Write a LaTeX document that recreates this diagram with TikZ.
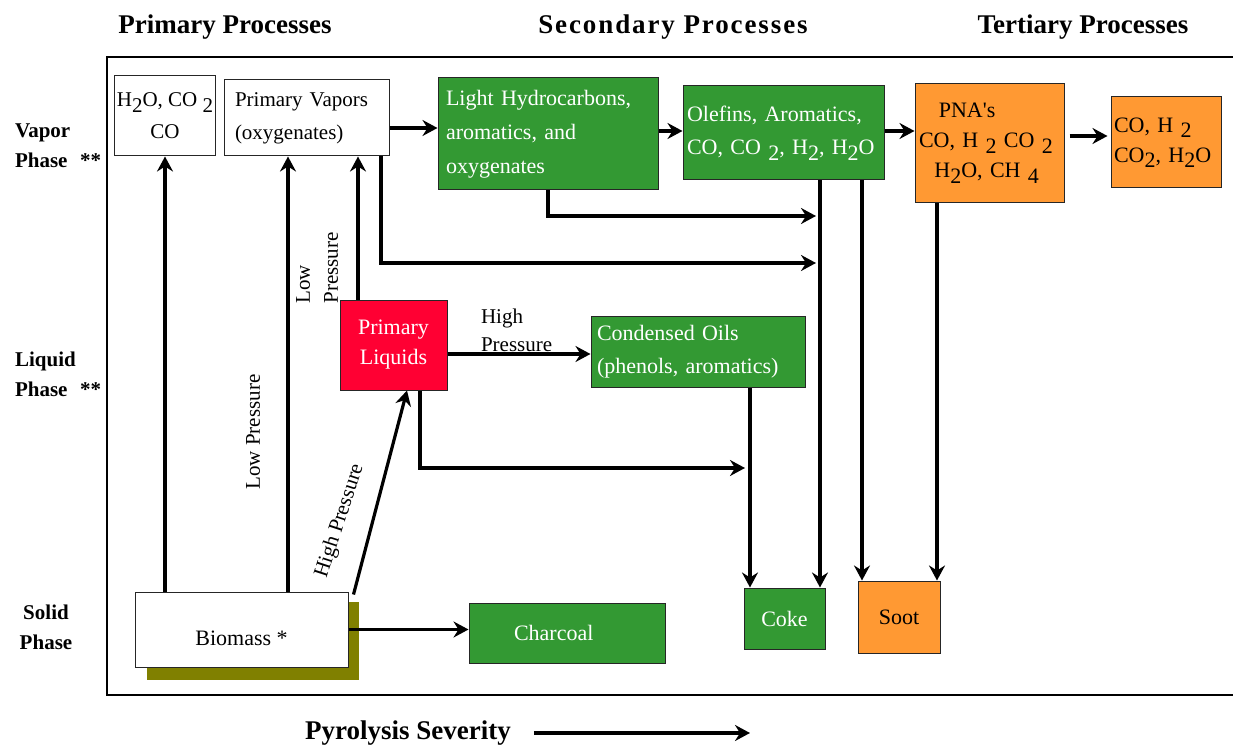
\documentclass[tikz,border=0pt]{standalone}
\usepackage{fontspec}
\setmainfont{Liberation Serif}
\usetikzlibrary{arrows.meta}

\definecolor{leafgreen}{HTML}{339933}
\definecolor{sootorange}{HTML}{FF9933}
\definecolor{liquidred}{HTML}{FF0033}
\definecolor{shadeolive}{HTML}{808000}

\newcommand{\dn}[1]{\raisebox{-0.55ex}{#1}}

\tikzset{
	box/.style = {draw = black!85, line width = 0.5pt, inner sep = 2pt, align = left,
		font = \fontsize{11}{15}\selectfont},
	whitebox/.style = {box, fill = white},
	greenbox/.style = {box, fill = leafgreen, text = white},
	orangebox/.style = {box, fill = sootorange},
	redbox/.style = {box, fill = liquidred, text = white},
	heading/.style = {font = \bfseries\fontsize{13.5}{16}\selectfont},
	phase/.style = {font = \bfseries\fontsize{10.5}{15}\selectfont, align = left},
	lbl/.style = {font = \fontsize{10.5}{14}\selectfont},
	flow/.style = {->, line width = 1.6pt}
}

\begin{document}
\begin{tikzpicture}[x = 0.5pt, y = -0.5pt, > = {Stealth[length = 7.5pt, width = 8pt, inset = 2.5pt]}]

	\useasboundingbox (0, 0) rectangle (1233, 749);

	% Frame, headings and phases

	\draw [line width = 0.7pt] (107, 57) rectangle (1250, 695);

	\node [heading] (prim) at (225, 27) {Primary Processes};
	\node [heading] (sec) at (673, 27) {\addfontfeature{LetterSpace = 7}Secondary Processes};
	\node [heading] (tert) at (1083, 27) {Tertiary Processes};

	\node [phase, anchor = north west] (vapor) at (8, 117) {Vapor\\Phase\hspace{0.6em}**};
	\node [phase, anchor = north west] (liquid) at (8, 345) {Liquid\\Phase\hspace{0.6em}**};
	\node [phase, align = center] (solid) at (46, 627) {Solid\\Phase};

	% Vapor boxes

	\node [whitebox, align = center, inner sep = 1pt, minimum width = 49pt, minimum height = 40pt,
		font = \fontsize{10.5}{16}\selectfont] (h2o) at (165, 116) {H\dn{2}O, CO \dn{2}\\CO};
	\node [whitebox, text width = 71.5pt, inner xsep = 5.5pt, minimum height = 38pt,
		font = \fontsize{10.5}{16.5}\selectfont] (pvap) at (306.5, 118) {Primary Vapors\\(oxygenates)};
	\node [greenbox, text width = 102pt, inner xsep = 4pt, minimum height = 56pt,
		font = \fontsize{11}{17}\selectfont] (lhc) at (548, 134) {Light Hydrocarbons,\\aromatics, and\\oxygenates};
	\node [greenbox, text width = 96.5pt, minimum height = 47pt,
		font = \fontsize{11}{16.5}\selectfont] (olef) at (783.5, 133) {Olefins, Aromatics,\\CO, CO \dn{2}, H\dn{2}, H\dn{2}O};
	\node [orangebox, text width = 70.5pt, minimum height = 59.5pt] (pna) at (989.5, 143.5)
		{\hspace{0.9em}PNA\textquotesingle s\\CO, H \dn{2} CO \dn{2}\\\hspace{0.7em}H\dn{2}O, CH \dn{4}};
	\node [orangebox, text width = 52pt, inner xsep = 1.5pt, minimum height = 45.5pt] (fin) at (1166, 142.5)
		{CO, H \dn{2}\\CO\dn{2}, H\dn{2}O};

	% Liquid boxes

	\node [redbox, align = center, text width = 49.5pt, minimum height = 45pt] (pliq) at (393.5, 345) {Primary\\Liquids};
	\node [greenbox, text width = 101pt, inner xsep = 3pt, minimum height = 35.5pt,
		font = \fontsize{11}{16.5}\selectfont] (coil) at (698, 351.5) {Condensed Oils\\(phenols, aromatics)};

	% Solid boxes

	\fill [shadeolive] (147, 602) rectangle (359, 680);
	\node [whitebox, align = center, minimum width = 106.5pt, minimum height = 37.5pt,
		text height = 18pt, text depth = 2pt] (biomass) at (241.5, 629.5) {Biomass *};
	\node [greenbox, text width = 85pt, inner xsep = 6.5pt, align = left, minimum height = 30pt] (charcoal) at (567, 633)
		{\hspace{16pt}Charcoal};
	\node [greenbox, align = center, minimum width = 40.5pt, minimum height = 30.5pt] (coke) at (784.5, 618.5) {Coke};
	\node [orangebox, align = center, minimum width = 41pt, minimum height = 36pt] (soot) at (899, 617) {Soot};

	% Primary pathways

	\draw [flow] (biomass.north -| h2o.south) -- (h2o.south);
	\draw [flow] ([xshift = -9.25pt] pvap.south |- biomass.north) -- ([xshift = -9.25pt] pvap.south);
	\draw [flow] ([shift = {(2.5pt, -1.5pt)}] biomass.north east) -- ([xshift = 6.75pt] pliq.south);
	\draw [flow] ([xshift = -17.75pt] pliq.north) -- ([xshift = -17.75pt] pliq.north |- pvap.south);
	\draw [flow] (biomass.east) -- (biomass.east -| charcoal.west);

	\node [lbl, rotate = 90] (lowsolid) at (253, 432) {Low Pressure};
	\node [lbl, rotate = 72] (highsolid) at (340, 521) {High Pressure};
	\node [lbl, rotate = 90, align = left] (lowliq) at (317, 268) {Low\\Pressure};
	\node [lbl, anchor = west, align = left] (highliq) at (474, 330) {High\\Pressure};

	% Vapor chain

	\draw [flow] ([yshift = -5pt] pvap.east) -- ([yshift = -5pt] pvap.east -| lhc.west);
	\draw [flow] ([yshift = 1.5pt] lhc.east) -- ([yshift = 1.5pt] lhc.east -| olef.west);
	\draw [flow] ([yshift = 1pt] olef.east) -- ([yshift = 1pt] olef.east -| pna.west);
	\draw [flow] ([shift = {(2.5pt, 3.75pt)}] pna.east) -- ([shift = {(-1.5pt, 3.75pt)}] pna.east -| fin.west);

	% Secondary and tertiary pathways

	\coordinate (gasA) at (816, 216);
	\coordinate (gasB) at (816, 263);
	\coordinate (oilC) at (745, 468);

	\draw [flow] (lhc.south) |- (gasA);
	\draw [flow] ([xshift = 37.25pt] pvap.south) |- (gasB);
	\draw [flow] ([yshift = -4.5pt] pliq.east) -- ([yshift = -4.5pt] pliq.east -| coil.west);
	\draw [flow] ([xshift = 13.25pt] pliq.south) |- (oilC);

	\draw [flow] ([xshift = 18.25pt] olef.south) -- ([xshift = 18.25pt] olef.south |- coke.north);
	\draw [flow] ([xshift = 39.25pt] olef.south) -- ([xshift = 39.25pt] olef.south |- soot.north);
	\draw [flow] ([xshift = -26.25pt] pna.south) -- ([xshift = -26.25pt] pna.south |- soot.north);
	\draw [flow] ([xshift = 26pt] coil.south) -- ([xshift = 26pt] coil.south |- coke.north);

	% Severity axis

	\node [heading] (sev) at (408, 733) {Pyrolysis Severity};
	\coordinate (sevend) at (750, 733);
	\draw [flow] ([xshift = 8pt] sev.east) -- (sevend);

\end{tikzpicture}
\end{document}
